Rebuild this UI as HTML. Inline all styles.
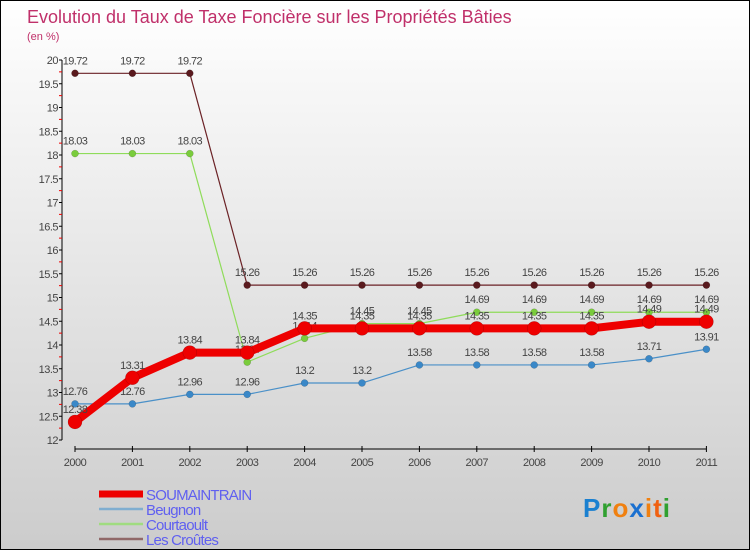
<!DOCTYPE html>
<html><head><meta charset="utf-8"><style>
body{margin:0}
#wrap{position:relative;width:748px;height:548px;border:1px solid #000;background:linear-gradient(#fff,#ccc);font-family:"Liberation Sans",sans-serif;overflow:hidden}
</style></head><body>
<div id="wrap">
<svg id="c" width="748" height="548"></svg>
</div>
<script>
const years=["2000","2001","2002","2003","2004","2005","2006","2007","2008","2009","2010","2011"];
const soumaintrain=[12.38,13.31,13.84,13.84,14.35,14.35,14.35,14.35,14.35,14.35,14.49,14.49];
const beugnon=[12.76,12.76,12.96,12.96,13.2,13.2,13.58,13.58,13.58,13.58,13.71,13.91];
const courtaoult=[18.03,18.03,18.03,13.64,14.14,14.45,14.45,14.69,14.69,14.69,14.69,14.69];
const croutes=[19.72,19.72,19.72,15.26,15.26,15.26,15.26,15.26,15.26,15.26,15.26,15.26];
const yTicks=[12,12.5,13,13.5,14,14.5,15,15.5,16,16.5,17,17.5,18,18.5,19,19.5,20];
const seriesNames=["SOUMAINTRAIN","Beugnon","Courtaoult","Les Croûtes"];
const NS="http://www.w3.org/2000/svg",svg=document.getElementById('c');
const X=i=>74+i*57.4, Y=v=>439-(v-12)*47.5;
function el(t,a,p){const e=document.createElementNS(NS,t);for(const k in a)e.setAttribute(k,a[k]);(p||svg).appendChild(e);return e;}
function txt(x,y,s,a){const e=el('text',Object.assign({x:x,y:y},a));e.textContent=s;return e;}
let t=txt(26,22,"Evolution du Taux de Taxe Foncière sur les Propriétés Bâties",{fill:"#c0306a","font-size":"18"});

t=txt(26,39,"(en %)",{fill:"#c0306a","font-size":"11"});

let ax=el('line',{x1:61,y1:Y(20),x2:61,y2:Y(12),stroke:"#000"});

yTicks.forEach(v=>{el('line',{x1:58,x2:61,y1:Y(v),y2:Y(v),stroke:"#000"});
 if(v<20)el('line',{x1:58,x2:61,y1:Y(v+0.25),y2:Y(v+0.25),stroke:"#e00"});
 const l=txt(57,Y(v)+4,String(v),{fill:"#444","font-size":"11","text-anchor":"end","letter-spacing":"-0.5"});
 });
ax=el('line',{x1:X(0),y1:448,x2:X(11),y2:448,stroke:"#000"});

years.forEach((y,i)=>{el('line',{x1:X(i),x2:X(i),y1:445,y2:451,stroke:"#000"});
 const l=txt(X(i),465,y,{fill:"#444","font-size":"11","text-anchor":"middle","letter-spacing":"-0.5"});
 });
const defs=[[croutes,"#6b2226",1.2,3.5,"series-les-croutes"],[courtaoult,"#8fdc5a",1.2,3.5,"series-courtaoult"],[beugnon,"#4a90c8",1.2,3.5,"series-beugnon"],[soumaintrain,"#ee0000",8,7,"series-soumaintrain"]];
const fills={"#6b2226":"#5a1a1e","#8fdc5a":"#7acc3c","#4a90c8":"#3a88c8","#ee0000":"#ee0000"};
defs.forEach(([d,c,w,r,n])=>{const g=el('g',{});
 el('polyline',{points:d.map((v,i)=>X(i)+","+Y(v)).join(" "),fill:"none",stroke:c,"stroke-width":w,"stroke-linejoin":"round"},g);
 d.forEach((v,i)=>{const p=el('circle',{cx:X(i),cy:Y(v),r:r,fill:fills[c],stroke:"rgba(0,0,0,0.25)","stroke-width":0.5},g);
  
  const l=txt(X(i),Y(v)-9,String(v),{fill:"#444","font-size":"11","text-anchor":"middle","letter-spacing":"-0.6"},g);
  });});
const lc=[["#ee0000",7],["#80aed0",2.5],["#a0dc80",2.5],["#906868",2.5]];
seriesNames.forEach((s,i)=>{const g=el('g',{});
 el('line',{x1:98,x2:142,y1:493+i*15,y2:493+i*15,stroke:lc[i][0],"stroke-width":lc[i][1]},g);
 txt(145,499+i*15,s,{fill:"#6060f0","font-size":"15","letter-spacing":"-0.8"},g);});
const lg=el('g',{});
const lt=el('text',{x:582,y:516,"font-size":"26","font-weight":"bold","letter-spacing":"1"},lg);
[["P","#1a80d0"],["r","#30a030"],["o","#f08010"],["x","#1a70d0"],["i","#f08010"],["t","#f06010"],["i","#30a030"]].forEach(([ch,c])=>{const s=el('tspan',{fill:c},lt);s.textContent=ch;});
</script>
</body></html>
